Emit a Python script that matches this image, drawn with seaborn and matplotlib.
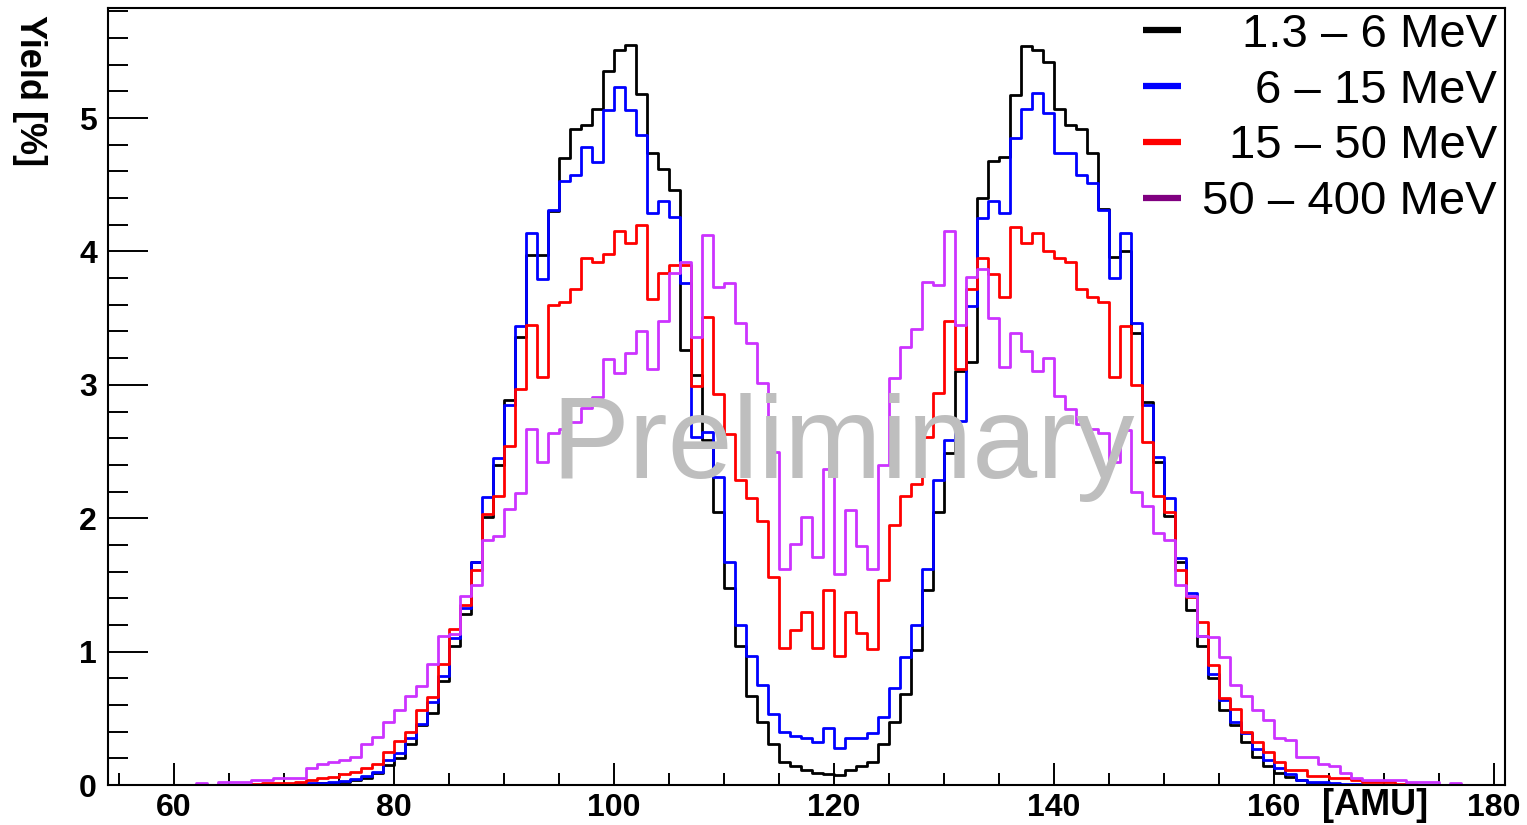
import numpy as np
import pandas as pd
import matplotlib
matplotlib.use("Agg")
import matplotlib.pyplot as plt
import seaborn as sns
from matplotlib.lines import Line2D
from matplotlib.ticker import MultipleLocator

# ---------------- data ----------------
# lower edge of each 1-AMU bin (60 ... 177)
mass_bins = list(range(60, 178))

yield_1p3_6 = [
    0, 0, 0, 0, 0, 0, 0, 0, 0, 0.002,                      # 60-69
    0.003, 0.005, 0.01, 0.012, 0.018, 0.025, 0.04, 0.05, 0.09, 0.15,   # 70-79
    0.20, 0.31, 0.45, 0.54, 0.78, 1.04, 1.28, 1.67, 2.01, 2.40,         # 80-89
    2.89, 3.36, 3.97, 3.97, 4.30, 4.70, 4.92, 4.95, 5.07, 5.35,         # 90-99
    5.51, 5.55, 5.18, 4.74, 4.62, 4.46, 3.26, 3.07, 2.59, 2.05,         # 100-109
    1.48, 1.04, 0.67, 0.47, 0.31, 0.17, 0.14, 0.11, 0.09, 0.08,         # 110-119
    0.075, 0.11, 0.14, 0.17, 0.31, 0.47, 0.68, 1.01, 1.46, 2.05,        # 120-129
    2.49, 3.10, 3.17, 4.40, 4.68, 4.71, 5.17, 5.54, 5.51, 5.42,         # 130-139
    5.07, 4.95, 4.92, 4.74, 4.32, 3.96, 4.00, 3.39, 2.87, 2.42,         # 140-149
    2.02, 1.67, 1.31, 1.04, 0.80, 0.56, 0.45, 0.32, 0.21, 0.14,         # 150-159
    0.09, 0.06, 0.035, 0.015, 0.01, 0.005, 0.003, 0, 0, 0,              # 160-169
    0, 0, 0, 0, 0, 0, 0, 0,                                             # 170-177
]
yield_6_15 = [
    0, 0, 0, 0, 0, 0, 0, 0, 0, 0.003,
    0.005, 0.01, 0.015, 0.018, 0.022, 0.03, 0.045, 0.065, 0.10, 0.19,
    0.24, 0.35, 0.46, 0.62, 0.82, 1.10, 1.33, 1.67, 2.16, 2.45,
    2.85, 3.44, 4.14, 3.79, 4.31, 4.53, 4.57, 4.78, 4.67, 5.06,
    5.23, 5.06, 4.87, 4.29, 4.38, 4.26, 3.76, 2.61, 2.65, 2.31,
    1.67, 1.20, 0.97, 0.75, 0.53, 0.40, 0.37, 0.35, 0.32, 0.43,
    0.28, 0.35, 0.35, 0.39, 0.51, 0.73, 0.96, 1.20, 1.62, 2.29,
    2.59, 2.73, 3.59, 4.25, 4.38, 4.29, 4.85, 5.07, 5.19, 5.04,
    4.74, 4.74, 4.57, 4.51, 4.31, 3.80, 4.14, 3.46, 2.85, 2.46,
    2.15, 1.70, 1.44, 1.12, 0.83, 0.64, 0.47, 0.39, 0.27, 0.19,
    0.13, 0.08, 0.04, 0.02, 0.02, 0.015, 0.01, 0.005, 0, 0,
    0, 0, 0, 0, 0, 0, 0, 0,
]
yield_15_50 = [
    0, 0, 0, 0, 0, 0, 0.003, 0.005, 0.012, 0.015,
    0.015, 0.025, 0.037, 0.05, 0.06, 0.085, 0.10, 0.125, 0.16, 0.25,
    0.33, 0.40, 0.56, 0.66, 0.91, 1.17, 1.35, 1.61, 2.03, 2.17,
    2.54, 2.97, 3.45, 3.06, 3.60, 3.62, 3.72, 3.95, 3.92, 3.98,
    4.15, 4.06, 4.20, 3.64, 3.84, 3.90, 3.90, 2.99, 3.51, 2.93,
    2.63, 2.29, 2.15, 1.98, 1.56, 1.03, 1.16, 1.30, 1.03, 1.46,
    0.97, 1.30, 1.14, 1.02, 1.54, 1.95, 2.17, 2.26, 2.61, 2.94,
    3.48, 3.12, 3.72, 3.95, 3.83, 3.66, 4.18, 4.06, 4.14, 4.00,
    3.95, 3.92, 3.72, 3.66, 3.62, 3.06, 3.44, 3.00, 2.57, 2.17,
    2.05, 1.61, 1.41, 1.22, 0.90, 0.65, 0.57, 0.40, 0.32, 0.25,
    0.17, 0.11, 0.11, 0.07, 0.07, 0.05, 0.05, 0.04, 0.02, 0.02,
    0.02, 0.01, 0.005, 0, 0, 0, 0, 0,
]
yield_50_400 = [
    0, 0, 0.015, 0, 0.02, 0.02, 0.02, 0.037, 0.037, 0.05,
    0.05, 0.055, 0.125, 0.16, 0.17, 0.19, 0.21, 0.31, 0.36, 0.47,
    0.56, 0.67, 0.74, 0.91, 1.12, 1.13, 1.42, 1.50, 1.84, 1.87,
    2.07, 2.19, 2.67, 2.42, 2.64, 2.67, 2.72, 2.83, 2.91, 3.19,
    3.09, 3.24, 3.40, 3.12, 3.48, 3.84, 3.92, 3.36, 4.12, 3.73,
    3.76, 3.46, 3.31, 3.01, 2.50, 1.62, 1.81, 2.01, 1.71, 2.37,
    1.58, 2.06, 1.79, 1.62, 2.40, 3.05, 3.28, 3.42, 3.77, 3.75,
    4.15, 3.45, 3.81, 3.87, 3.50, 3.13, 3.39, 3.25, 3.10, 3.20,
    2.92, 2.82, 2.71, 2.67, 2.64, 2.42, 2.66, 2.20, 2.09, 1.89,
    1.84, 1.50, 1.42, 1.12, 1.11, 0.96, 0.75, 0.67, 0.56, 0.49,
    0.35, 0.34, 0.21, 0.21, 0.16, 0.14, 0.09, 0.05, 0.04, 0.04,
    0.04, 0.04, 0.02, 0.02, 0.02, 0, 0.015, 0,
]

series_labels = ["1.3 \u2013 6 MeV", "6 \u2013 15 MeV", "15 \u2013 50 MeV", "50 \u2013 400 MeV"]
line_colors = ["#000000", "#0000ff", "#ff0000", "#cc33ff"]
legend_colors = ["#000000", "#0000ff", "#ff0000", "#800080"]
x_tick_values = [60, 80, 100, 120, 140, 160, 180]
y_tick_values = [0, 1, 2, 3, 4, 5]

# ---------------- plot ----------------
sns.set_theme(style="white")
plt.rcParams["font.family"] = ["Liberation Sans", "DejaVu Sans"]
plt.rcParams["text.color"] = "black"
plt.rcParams["axes.labelcolor"] = "black"
plt.rcParams["xtick.color"] = "black"
plt.rcParams["ytick.color"] = "black"

fig = plt.figure(figsize=(15.27, 8.25), dpi=100)
ax = fig.add_axes([0.07073, 0.04848, 0.91486, 0.94182])

bin_edges = [float(e) for e in range(mass_bins[0], mass_bins[-1] + 2)]
for vals, col in zip([yield_1p3_6, yield_6_15, yield_15_50, yield_50_400], line_colors):
    df = pd.DataFrame({"mass": np.array(mass_bins, dtype=float) + 0.5,
                       "w": np.array(vals, dtype=float)})
    sns.histplot(data=df, x="mass", weights="w", bins=bin_edges, element="step",
                 fill=False, color=col, linewidth=2.0, ax=ax)

ax.set_xlim(54.0, 181.0)
ax.set_ylim(0, 5.825)

ax.set_xticks(x_tick_values)
ax.set_xticklabels([str(v) for v in x_tick_values], fontsize=23, fontweight="bold",
                   color="black")
ax.set_yticks(y_tick_values)
ax.set_yticklabels([str(v) for v in y_tick_values], fontsize=23, fontweight="bold",
                   color="black")
ax.xaxis.set_minor_locator(MultipleLocator(5))
ax.yaxis.set_minor_locator(MultipleLocator(0.2))
ax.tick_params(axis="x", which="major", direction="in", length=16, width=1.4, pad=6,
               bottom=True, top=False, colors="black")
ax.tick_params(axis="x", which="minor", direction="in", length=8.5, width=1.4,
               bottom=True, top=False, colors="black")
ax.tick_params(axis="y", which="major", direction="in", length=29, width=1.4, pad=8,
               left=True, right=False, colors="black")
ax.tick_params(axis="y", which="minor", direction="in", length=14.5, width=1.4,
               left=True, right=False, colors="black")
for sp in ax.spines.values():
    sp.set_visible(True)
    sp.set_color("black")
    sp.set_linewidth(1.5)
ax.grid(False)

ax.set_xlabel("[AMU]", fontsize=26, fontweight="bold", ha="center", va="center",
              color="black")
ax.xaxis.set_label_coords(0.907, -0.026)

ax.set_ylabel("Yield [%]", fontsize=26, fontweight="bold", color="black")
ylab = ax.yaxis.label
ylab.set_rotation(-90)
ylab.set_rotation_mode("default")
ylab.set_horizontalalignment("center")
ylab.set_verticalalignment("top")
ax.yaxis.set_label_coords(-0.056, 0.991)

ax.text(120.86, 2.30, "Preliminary", fontsize=84, color="#bebebe",
        ha="center", va="baseline", zorder=10)

handles = [Line2D([0], [0], color=c, lw=4.5, solid_capstyle="butt") for c in legend_colors]
leg = ax.legend(handles, series_labels, loc="upper right", bbox_to_anchor=(0.9975, 1.0),
                frameon=False, fontsize=34, handlelength=0.8, handletextpad=0.45,
                labelspacing=0.25, borderaxespad=0.0, borderpad=0.1, labelcolor="black")
leg.set_zorder(20)

fig.canvas.draw()
rend = fig.canvas.get_renderer()
texts = leg.get_texts()
widths = [t.get_window_extent(rend).width for t in texts]
wmax = max(widths)
for t, w in zip(texts, widths):
    t.set_position((wmax - w, 0))

fig.savefig("out.png", dpi=100)
